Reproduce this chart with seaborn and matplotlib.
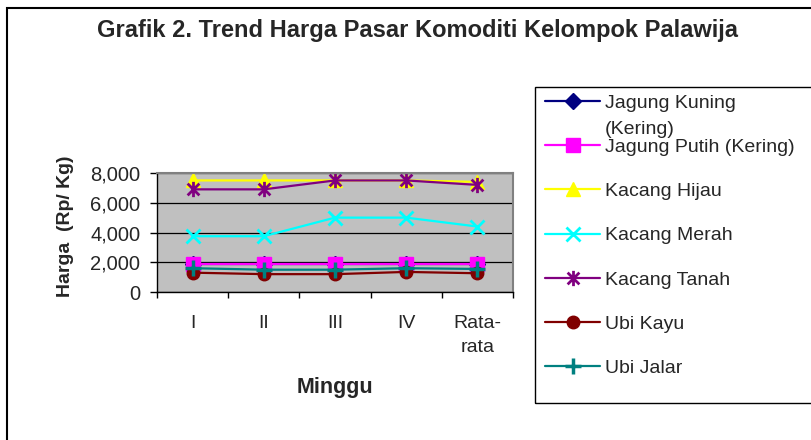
import matplotlib
matplotlib.use("Agg")
import matplotlib.pyplot as plt
from matplotlib.patches import Rectangle
from matplotlib.path import Path
from matplotlib.ticker import StrMethodFormatter
import seaborn as sns
import numpy as np
import pandas as pd

# data (Rp/Kg per week)
minggu = ["I", "II", "III", "IV", "Rata-\nrata"]
jagung_kuning = [1900, 1900, 1900, 1900, 1900]
jagung_putih = [1900, 1900, 1900, 1900, 1900]
kacang_hijau = [7500, 7500, 7500, 7500, 7400]
kacang_merah = [3750, 3750, 5000, 5000, 4400]
kacang_tanah = [6900, 6900, 7500, 7500, 7200]
ubi_kayu = [1300, 1200, 1200, 1350, 1260]
ubi_jalar = [1600, 1500, 1500, 1600, 1550]

komoditi = ["Jagung Kuning", "Jagung Putih (Kering)", "Kacang Hijau",
            "Kacang Merah", "Kacang Tanah", "Ubi Kayu", "Ubi Jalar"]
harga = [jagung_kuning, jagung_putih, kacang_hijau, kacang_merah,
         kacang_tanah, ubi_kayu, ubi_jalar]

df = pd.DataFrame({
    "Minggu": minggu * len(komoditi),
    "Harga": np.concatenate(harga),
    "Komoditi": np.repeat(komoditi, len(minggu)),
})

# excel style "star": an x with a vertical bar
star = Path([(-1, -1), (1, 1), (-1, 1), (1, -1), (0, -1.3), (0, 1.3)],
            [Path.MOVETO, Path.LINETO, Path.MOVETO, Path.LINETO, Path.MOVETO, Path.LINETO])

colors = ["#000080", "#FF00FF", "#FFFF00", "#00FFFF", "#800080", "#800000", "#008080"]
markers = ["D", "s", "^", "x", star, "o", "+"]
msizes = [8, 10, 10, 10, 11, 9, 12]
mews = [1, 1, 1, 2, 2, 1, 2.5]

FS = 14

sns.set_style("white")
plt.rcParams["font.family"] = ["Liberation Sans", "DejaVu Sans"]

fig = plt.figure(figsize=(8.12, 4.4), dpi=100)
ax = fig.add_axes([157 / 812, 1 - 292 / 440, 356 / 812, 119 / 440])
ax.set_facecolor("#C0C0C0")

for i, name in enumerate(komoditi):
    sub = df[df["Komoditi"] == name]
    sns.lineplot(data=sub, x="Minggu", y="Harga", ax=ax, sort=False,
                 color=colors[i], marker=markers[i], markersize=msizes[i],
                 markeredgewidth=mews[i], markeredgecolor=colors[i],
                 linewidth=1.6, label=name, legend=False)

ax.set_xlim(-0.5, 4.5)
ax.set_ylim(0, 8000)
ax.set_yticks(np.arange(0, 8001, 2000))
ax.yaxis.set_major_formatter(StrMethodFormatter("{x:,.0f}"))
ax.set_xticks(np.arange(-0.5, 5, 1), minor=True)
ax.tick_params(axis="x", which="major", length=0, pad=16.5, labelsize=FS)
ax.tick_params(axis="x", which="minor", length=4, width=1, color="black", direction="out", bottom=True)
ax.tick_params(axis="y", length=5, width=1, color="black", direction="out", left=True,
               labelsize=FS + 0.5, pad=7)
for lbl in ax.get_xticklabels():
    lbl.set_linespacing(1.55)
ax.yaxis.grid(True, color="black", linewidth=0.9)
ax.set_axisbelow(True)
ax.set_xlabel("")
ax.set_ylabel("")
for s in ["left", "bottom"]:
    ax.spines[s].set_color("black")
    ax.spines[s].set_linewidth(1)
for s in ["top", "right"]:
    ax.spines[s].set_color("#808080")
    ax.spines[s].set_linewidth(1.5)

fig.text(418 / 812, 1 - 31 / 440, "Grafik 2. Trend Harga Pasar Komoditi Kelompok Palawija",
         ha="center", va="center", fontsize=17, fontweight="bold")
fig.text(66 / 812, 1 - 226 / 440, "Harga  (Rp/ Kg)", rotation=90,
         ha="center", va="center", fontsize=FS, fontweight="bold")
fig.text(335 / 812, 1 - 387 / 440, "Minggu", ha="center", va="center",
         fontsize=FS + 1.5, fontweight="bold")

leg = fig.legend(loc="upper left", bbox_to_anchor=(545 / 812, 1 - 94 / 440),
                 frameon=False, fontsize=FS, handlelength=2.83, handletextpad=0.26,
                 labelspacing=1.37, borderpad=0, borderaxespad=0)

# legend frame and outer chart frame
fig.add_artist(Rectangle((535 / 812, 1 - 403 / 440), 0.5, 316 / 440,
                         transform=fig.transFigure, fill=False, ec="black", lw=1))
fig.add_artist(Rectangle((7 / 812, -0.2), 1.2, 1.2 - 8 / 440,
                         transform=fig.transFigure, fill=False, ec="black", lw=1.5))

# wrapped second line of the first legend label
fig.canvas.draw()
bb = leg.get_texts()[0].get_window_extent()
fig.text(bb.x0 / 812, (bb.y0 - 26) / 440, "(Kering)", fontsize=FS, va="bottom", ha="left")

fig.savefig("out.png", dpi=100)
